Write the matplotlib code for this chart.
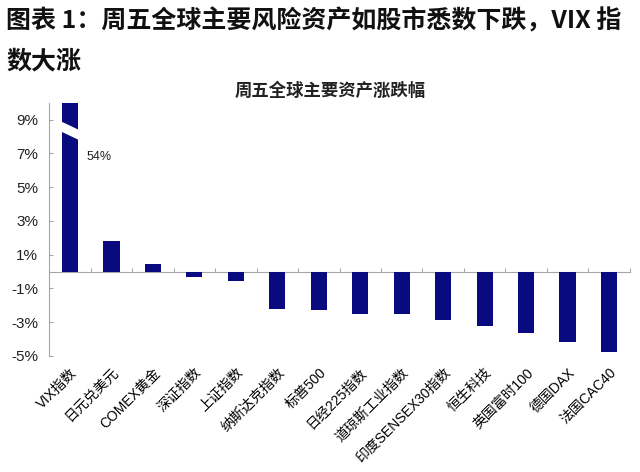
import matplotlib
matplotlib.use('Agg')
import matplotlib.pyplot as plt
from matplotlib.patches import Polygon

plt.rcParams['font.family'] = ['Noto Sans CJK SC', 'DejaVu Sans']
latin_first = ['Liberation Sans', 'Noto Sans CJK SC']

# data (weekly change, %)
names = ['VIX指数', '日元兑美元', 'COMEX黄金', '深证指数', '上证指数', '纳斯达克指数',
         '标普500', '日经225指数', '道琼斯工业指数', '印度SENSEX30指数', '恒生科技',
         '英国富时100', '德国DAX', '法国CAC40']
changes = [54, 1.8, 0.45, -0.33, -0.55, -2.22, -2.26, -2.52, -2.52, -2.85, -3.22,
           -3.62, -4.15, -4.74]
yticks = [-5, -3, -1, 1, 3, 5, 7, 9]

bar_color = '#0a0a80'
axis_gray = '#a6a6a6'
ylo, yhi = -5, 10
bw = 0.39

fig = plt.figure(figsize=(6.4, 4.72), dpi=100)
ax = fig.add_axes([0.077, 0.246, 0.907, 0.536])

x = list(range(len(names)))
bars = ax.bar(x, changes, width=bw, color=bar_color, zorder=2)

ax.set_xlim(-0.5, len(names) - 0.5)
ax.set_ylim(ylo, yhi)

# axis break on the VIX bar
b0 = bars[0]
bx0 = b0.get_x() - 0.02
bx1 = b0.get_x() + b0.get_width() + 0.02
brk = Polygon([(bx0, 8.9), (bx1, 8.4), (bx1, 7.8), (bx0, 8.3)],
              closed=True, facecolor='white', edgecolor='none', zorder=3)
ax.add_patch(brk)
ax.text(0.39, 6.8, '%d%%' % changes[0], fontsize=9, va='center', ha='left',
        color='#222222', family=latin_first)

# y axis
ax.set_yticks(yticks)
ax.set_yticklabels(['%d%%' % v for v in yticks], family=latin_first)
ax.tick_params(axis='y', direction='in', length=3, color=axis_gray,
               labelsize=11, pad=8, labelcolor='#222222')

# x labels at bottom
ax.set_xticks(x)
ax.set_xticklabels(names, rotation=45, ha='right', rotation_mode='anchor',
                   fontsize=10, family=latin_first)
ax.tick_params(axis='x', length=0, pad=7)

for s in ['top', 'right', 'bottom']:
    ax.spines[s].set_visible(False)
ax.spines['left'].set_color(axis_gray)

# zero line with category separators
zero_ax = ax.secondary_xaxis((0 - ylo) / (yhi - ylo))
zero_ax.set_xticks([i + 0.5 for i in x])
zero_ax.tick_params(axis='x', direction='in', length=3, color=axis_gray,
                    labelbottom=False)
zero_ax.spines['bottom'].set_color(axis_gray)

fig.text(0.5156, 0.788, '周五全球主要资产涨跌幅', fontsize=12.5, fontweight='bold',
         ha='center', va='bottom', color='#222222')

fig.text(0.010, 0.955, '图表 1：周五全球主要风险资产如股市悉数下跌，VIX 指',
         fontsize=18, fontweight='bold', ha='left', va='center', color='#111111')
fig.text(0.010, 0.870, '数大涨', fontsize=18, fontweight='bold',
         ha='left', va='center', color='#111111')

fig.savefig('out.png', dpi=100)
